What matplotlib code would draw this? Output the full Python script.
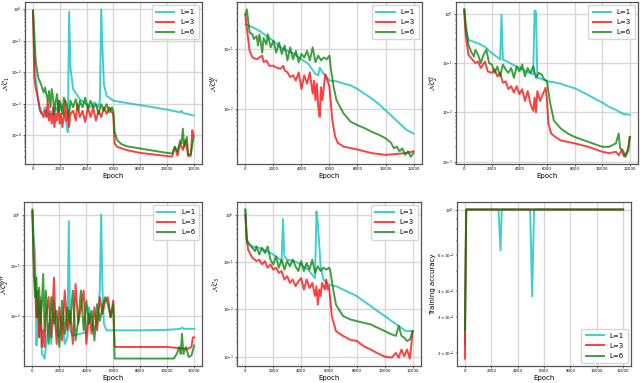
import numpy as np
import matplotlib
matplotlib.use("Agg")
import matplotlib.pyplot as plt

# Neural collapse metrics vs epoch for three depths L
labels = ["L=1", "L=3", "L=6"]
colors = ["c", "r", "g"]

# values below are log10 of the metric
# ---- NC1 ----
nc1_x1 = [0, 100, 200, 300, 400, 500, 700, 900, 1100, 1300, 1500, 1700, 1900, 2100, 2300, 2500, 2600, 2700, 2800,
          3000, 3500, 4000, 4300, 4600, 4900, 5000, 5100, 5200, 5300, 5500, 6000, 7000, 8000, 9000, 10000, 11000,
          11100, 11200, 12000]
nc1_y1 = [-0.06, -1.34, -2.18, -2.54, -2.91, -3.23, -3.33, -3.12, -3.43, -3.23, -3.38, -3.12, -3.28, -3.02, -3.33,
          -3.64, -3.91, -0.08, -1.86, -2.54, -2.86, -3.02, -3.12, -2.96, -3.12, -2.91, 0.0, -1.34, -2.39, -2.75,
          -2.91, -2.98, -3.05, -3.12, -3.19, -3.28, -3.23, -3.3, -3.38]
nc1_x3 = [0, 100, 200, 400, 500, 600, 800, 900, 1000, 1100, 1200, 1300, 1400, 1500, 1600, 1700, 1800, 1900, 2000,
          2100, 2200, 2300, 2400, 2500, 2600, 2700, 2800, 3000, 3200, 3300, 3500, 3700, 3900, 4100, 4300, 4500,
          4700, 4900, 5100, 5300, 5500, 5700, 5900, 6000, 6100, 6300, 7000, 8000, 9000, 10000, 10400, 10600,
          10800, 11000, 11200, 11400, 11600, 11800, 11900, 12000]
nc1_y3 = [-0.06, -2.18, -2.49, -2.91, -3.12, -3.28, -3.43, -3.23, -3.43, -2.91, -3.54, -3.33, -3.64, -3.12, -3.75,
          -3.33, -3.54, -2.91, -3.64, -3.33, -3.75, -3.43, -2.91, -3.54, -3.23, -3.75, -3.33, -3.23, -3.54, -3.02,
          -3.43, -3.23, -3.59, -3.12, -3.43, -3.12, -3.54, -3.23, -3.43, -3.12, -3.33, -3.12, -3.28, -3.33, -4.27,
          -4.38, -4.48, -4.57, -4.62, -4.67, -4.69, -4.38, -4.66, -4.27, -4.48, -4.17, -4.67, -4.66, -3.85, -4.01]
nc1_x6 = [0, 100, 200, 400, 600, 800, 900, 1000, 1100, 1200, 1300, 1400, 1500, 1600, 1700, 1800, 1900, 2000, 2200,
          2300, 2500, 2700, 2800, 3000, 3200, 3400, 3500, 3700, 3900, 4100, 4300, 4500, 4700, 4900, 5100, 5300,
          5500, 5700, 5900, 6000, 6100, 6300, 6600, 7000, 8000, 9000, 10000, 10400, 10600, 10800, 11000, 11100,
          11200, 11300, 11500, 11600, 11800, 12000]
nc1_y6 = [-0.03, -0.82, -1.65, -2.18, -2.39, -2.65, -2.49, -2.7, -2.91, -2.6, -3.12, -2.54, -2.81, -3.33, -2.91,
          -2.7, -3.23, -2.91, -3.33, -2.81, -3.02, -3.38, -2.91, -3.12, -2.86, -3.23, -2.91, -3.12, -2.81, -3.17,
          -2.91, -3.12, -3.02, -3.33, -3.02, -3.23, -3.02, -3.28, -3.12, -3.23, -3.91, -4.17, -4.29, -4.36, -4.43,
          -4.5, -4.57, -4.59, -4.38, -4.53, -4.17, -4.27, -3.8, -4.38, -4.06, -4.64, -4.59, -4.06]

# ---- NC2^W ----
nc2w_x1 = [0, 500, 1000, 1500, 2000, 2500, 3000, 3500, 4000, 4500, 5000, 5200, 5300, 5500, 6000, 6500, 7000, 7500,
           8000, 8500, 9000, 9500, 10000, 10500, 11000, 11500, 12000]
nc2w_y1 = [-0.58, -0.63, -0.69, -0.78, -0.86, -0.97, -1.03, -1.08, -1.17, -1.25, -1.42, -1.44, -1.31, -1.39, -1.53,
           -1.54, -1.58, -1.61, -1.67, -1.75, -1.83, -1.92, -2.03, -2.14, -2.25, -2.36, -2.42]
nc2w_x3 = [0, 100, 300, 500, 800, 1000, 1200, 1300, 1500, 1700, 2000, 2200, 2500, 2700, 2800, 3000, 3200, 3400,
           3600, 3800, 4000, 4200, 4400, 4600, 4800, 4900, 5000, 5100, 5200, 5300, 5400, 5500, 5700, 5900, 6000,
           6200, 6400, 6600, 7000, 8000, 9000, 10000, 11000, 11500, 12000]
nc2w_y3 = [-0.42, -0.64, -1.03, -1.14, -1.17, -1.14, -1.11, -1.22, -1.19, -1.28, -1.28, -1.31, -1.33, -1.28, -1.36,
           -1.39, -1.47, -1.44, -1.53, -1.39, -1.67, -1.44, -1.58, -1.39, -1.75, -1.53, -1.86, -1.58, -1.97, -2.14,
           -1.64, -1.86, -1.42, -1.56, -1.64, -2.19, -2.47, -2.58, -2.64, -2.69, -2.75, -2.78, -2.76, -2.75, -2.72]
nc2w_x6 = [0, 100, 300, 500, 600, 800, 900, 1000, 1100, 1200, 1300, 1500, 1600, 1800, 2000, 2200, 2400, 2600, 2800,
           3000, 3200, 3400, 3600, 3800, 4000, 4200, 4400, 4600, 4800, 5000, 5200, 5400, 5600, 5800, 6000, 6100,
           6300, 6500, 7000, 7500, 8000, 8500, 9000, 9500, 10000, 10400, 10600, 10800, 11000, 11200, 11400, 11600,
           11800, 12000]
nc2w_y6 = [-0.42, -0.33, -0.72, -0.75, -0.83, -0.78, -0.94, -0.75, -0.89, -1.06, -0.81, -0.92, -0.75, -0.97, -0.86,
           -1.06, -0.89, -1.08, -0.94, -1.19, -0.97, -1.17, -1.03, -1.22, -1.08, -1.14, -1.03, -1.19, -0.97, -1.22,
           -1.11, -1.19, -1.14, -1.17, -1.11, -1.33, -1.64, -1.86, -2.08, -2.22, -2.28, -2.33, -2.39, -2.44, -2.5,
           -2.58, -2.67, -2.64, -2.72, -2.67, -2.78, -2.72, -2.81, -2.75]

# ---- NC2^H ----
nc2h_x1 = [0, 100, 300, 1000, 1500, 2000, 2500, 2600, 2700, 2800, 3000, 3500, 4000, 4500, 5000, 5100, 5200, 5300,
           5500, 6000, 6500, 7000, 7500, 8000, 8500, 9000, 9500, 10000, 10500, 11000, 11500, 12000]
nc2h_y1 = [0.09, -0.3, -0.53, -0.6, -0.67, -0.8, -0.9, -0.93, -0.02, -0.93, -0.95, -1.03, -1.1, -1.17, -1.23, 0.07,
           0.03, -1.3, -1.31, -1.37, -1.39, -1.42, -1.47, -1.51, -1.58, -1.65, -1.73, -1.8, -1.89, -1.95, -2.03,
           -2.05]
nc2h_x3 = [0, 100, 300, 500, 800, 1000, 1200, 1500, 1700, 2000, 2200, 2400, 2600, 2800, 3000, 3200, 3400, 3600,
           3800, 4000, 4200, 4400, 4600, 4800, 5000, 5100, 5200, 5300, 5500, 5700, 5900, 6000, 6100, 6300, 6600,
           7000, 8000, 9000, 10000, 10500, 11000, 11200, 11400, 11600, 11800, 11900, 12000]
nc2h_y3 = [0.07, -0.43, -0.83, -0.9, -1.0, -0.97, -1.1, -0.97, -1.17, -1.2, -1.13, -1.27, -1.2, -1.4, -1.37, -1.53,
           -1.47, -1.6, -1.47, -1.63, -1.53, -1.77, -1.57, -1.83, -1.97, -1.7, -2.0, -1.57, -1.77, -1.63, -1.5,
           -1.77, -2.23, -2.43, -2.5, -2.57, -2.63, -2.7, -2.8, -2.83, -2.8, -2.87, -2.77, -2.9, -2.8, -2.7, -2.5]
nc2h_x6 = [0, 100, 300, 500, 700, 800, 1000, 1200, 1400, 1600, 1800, 2000, 2200, 2400, 2600, 2800, 3000, 3200,
           3400, 3600, 3800, 4000, 4200, 4400, 4600, 4800, 5000, 5200, 5400, 5600, 5800, 6000, 6200, 6500, 7000,
           7500, 8000, 9000, 10000, 10500, 11000, 11200, 11300, 11500, 11700, 11900, 12000]
nc2h_y6 = [0.09, -0.2, -0.63, -0.77, -0.87, -0.73, -0.83, -1.0, -0.83, -0.73, -1.0, -1.03, -1.2, -1.07, -1.27,
           -1.03, -1.13, -1.2, -1.1, -1.3, -1.07, -1.17, -1.03, -1.27, -1.1, -1.2, -1.07, -1.3, -1.2, -1.23, -1.33,
           -1.37, -1.77, -2.17, -2.33, -2.43, -2.5, -2.6, -2.7, -2.7, -2.63, -2.43, -2.73, -2.77, -2.9, -2.77, -2.5]

# ---- NC2^WH ----
nc2wh_x1 = [0, 100, 200, 300, 400, 500, 600, 700, 800, 900, 1000, 1200, 1400, 1600, 1800, 2000, 2200, 2400, 2600,
            2700, 2800, 3000, 3500, 4000, 4200, 4500, 4800, 5000, 5100, 5200, 5300, 5500, 6000, 8000, 10000, 11000,
            11100, 11200, 12000]
nc2wh_y1 = [0.08, -0.45, -0.78, -2.59, -1.83, -2.43, -1.63, -2.76, -2.79, -2.85, -2.62, -2.16, -2.56, -1.7, -2.29,
            -2.43, -2.03, -2.56, -2.43, -0.12, -2.29, -2.39, -2.36, -2.33, -1.83, -2.29, -2.16, -1.5, 0.01, -1.5,
            -2.16, -2.29, -2.29, -2.29, -2.28, -2.26, -2.23, -2.26, -2.26]
nc2wh_x3 = [0, 100, 200, 300, 400, 500, 600, 700, 800, 900, 1000, 1200, 1400, 1600, 1700, 1800, 2000, 2200, 2400,
            2600, 2800, 3000, 3200, 3400, 3600, 3800, 4000, 4200, 4400, 4600, 4800, 5000, 5200, 5400, 5600, 5800,
            6000, 6100, 8000, 10000, 11500, 11800, 11900, 12000]
nc2wh_y3 = [0.08, -0.84, -1.37, -2.03, -1.5, -2.43, -1.7, -2.62, -2.29, -2.62, -2.03, -1.63, -2.43, -1.24, -2.16,
            -2.56, -1.83, -2.49, -1.5, -2.29, -1.9, -2.56, -1.37, -2.16, -1.83, -1.5, -2.56, -1.96, -2.36, -1.83,
            -2.29, -1.63, -1.96, -1.7, -1.63, -2.03, -1.7, -2.62, -2.62, -2.62, -2.66, -2.62, -2.43, -2.43]
nc2wh_x6 = [0, 100, 200, 300, 400, 500, 600, 700, 800, 900, 1000, 1200, 1400, 1600, 1800, 2000, 2200, 2400, 2600,
            2800, 3000, 3200, 3400, 3600, 3800, 4000, 4200, 4400, 4600, 4800, 5000, 5200, 5400, 5600, 5800, 6000,
            6100, 8000, 10500, 10700, 10900, 11000, 11100, 11200, 11400, 11600, 11800, 12000]
nc2wh_y6 = [0.11, -1.17, -1.63, -1.24, -2.03, -1.44, -2.16, -1.77, -1.17, -2.29, -1.5, -2.56, -1.63, -2.16, -1.9,
            -2.62, -1.7, -2.36, -1.83, -2.16, -1.5, -2.49, -2.1, -1.5, -2.29, -1.7, -2.16, -1.9, -2.49, -1.77, -2.1,
            -1.83, -1.63, -1.77, -2.03, -1.77, -2.85, -2.85, -2.85, -2.76, -2.62, -2.76, -2.36, -2.76, -2.62, -2.82,
            -2.79, -2.59]

# ---- NC3 ----
nc3_x1 = [0, 100, 300, 500, 1000, 1500, 2000, 2500, 2600, 2700, 2800, 3000, 3500, 4000, 4500, 5000, 5100, 5200,
          5400, 5600, 6000, 6500, 7000, 7500, 8000, 8500, 9000, 9500, 10000, 10500, 11000, 11500, 12000]
nc3_y1 = [0.11, -0.6, -0.63, -0.67, -0.7, -0.77, -0.84, -0.95, -0.98, -0.09, -0.88, -0.95, -0.98, -1.05, -1.16,
          -1.34, 0.07, -0.18, -1.09, -1.37, -1.48, -1.51, -1.58, -1.65, -1.72, -1.83, -1.93, -2.04, -2.14, -2.25,
          -2.35, -2.46, -2.46]
nc3_x3 = [0, 100, 200, 500, 800, 1000, 1200, 1400, 1600, 1800, 2000, 2200, 2400, 2600, 2800, 3000, 3200, 3400,
          3600, 3800, 4000, 4200, 4400, 4600, 4800, 5000, 5100, 5200, 5300, 5400, 5500, 5700, 5800, 5900, 6000,
          6200, 6500, 7000, 7500, 8000, 8500, 9000, 9500, 10000, 10500, 10800, 11000, 11200, 11400, 11600, 11800,
          11900, 12000]
nc3_y3 = [0.0, -0.49, -0.74, -0.91, -0.98, -0.95, -1.05, -0.98, -1.12, -1.05, -1.16, -1.12, -1.23, -1.19, -1.37,
          -1.3, -1.44, -1.37, -1.51, -1.41, -1.34, -1.58, -1.37, -1.55, -1.44, -1.72, -1.51, -1.9, -1.58, -1.72,
          -1.44, -1.58, -1.37, -1.58, -1.51, -2.14, -2.46, -2.56, -2.64, -2.67, -2.78, -2.85, -2.93, -3.0, -3.02,
          -2.92, -3.02, -2.85, -2.99, -2.85, -3.04, -2.78, -2.46]
nc3_x6 = [0, 100, 300, 500, 700, 800, 1000, 1200, 1400, 1600, 1800, 2000, 2200, 2400, 2600, 2800, 3000, 3200,
          3400, 3600, 3800, 4000, 4200, 4400, 4600, 4800, 5000, 5200, 5400, 5600, 5800, 6000, 6100, 6300, 6500,
          7000, 7500, 8000, 9000, 10000, 10500, 10800, 11000, 11200, 11400, 11600, 11800, 12000]
nc3_y6 = [0.11, -0.53, -0.63, -0.7, -0.77, -0.67, -0.84, -0.7, -0.81, -0.67, -0.95, -1.05, -0.88, -1.12, -0.95,
          -1.16, -0.98, -1.09, -0.95, -1.09, -1.19, -0.98, -1.19, -1.02, -1.16, -0.95, -1.23, -1.09, -1.19, -1.12,
          -1.16, -1.12, -1.19, -1.58, -1.9, -2.14, -2.21, -2.25, -2.32, -2.46, -2.53, -2.56, -2.35, -2.56, -2.6,
          -2.67, -2.64, -2.46]

# ---- training accuracy (plain values) ----
acc_x1 = [0, 100, 2550, 2700, 2800, 4950, 5100, 5250, 12000]
acc_y1 = [0.22, 1.0, 1.0, 0.63, 1.0, 1.0, 0.377, 1.0, 1.0]
acc_x3 = [0, 100, 12000]
acc_y3 = [0.187, 1.0, 1.0]
acc_x6 = [0, 100, 12000]
acc_y6 = [0.257, 1.0, 1.0]


def draw_panel(ax, xs, ys, ylabel, loc="upper right", label_x=None):
    for x, y, c, lab in zip(xs, ys, colors, labels):
        ax.plot(x, y, color=c, alpha=0.75, lw=1.4, label=lab)
    ax.set_yscale("log")
    ax.set_xticks([0, 2000, 4000, 6000, 8000, 10000, 12000])
    ax.grid(True, color="#d8d8d8", lw=1.0)
    ax.set_axisbelow(True)
    ax.tick_params(which="both", labelsize=2.8, pad=1.0)
    ax.tick_params(which="major", length=1.5, width=0.4)
    ax.tick_params(which="minor", length=0.8, width=0.3)
    for s in ax.spines.values():
        s.set_color("#555555")
        s.set_linewidth(0.9)
    ax.set_xlabel("Epoch", fontsize=5, labelpad=1)
    ax.set_ylabel(ylabel, fontsize=5, labelpad=0.5)
    if label_x is not None:
        ax.yaxis.set_label_coords(label_x, 0.5)
    ax.legend(loc=loc, fontsize=5, handlelength=2.6, borderpad=0.6, labelspacing=0.6,
              handletextpad=0.9, borderaxespad=0.4)


def lin(v):
    return [10.0 ** a for a in v]


fig = plt.figure(figsize=(6.4, 3.83), dpi=100)
ax1 = fig.add_axes([0.039, 0.5718, 0.276, 0.423])
ax2 = fig.add_axes([0.3703, 0.5718, 0.289, 0.423])
ax3 = fig.add_axes([0.7125, 0.5718, 0.2844, 0.423])
ax4 = fig.add_axes([0.038, 0.0444, 0.278, 0.428])
ax5 = fig.add_axes([0.3703, 0.0444, 0.2875, 0.428])
ax6 = fig.add_axes([0.714, 0.0444, 0.272, 0.428])

draw_panel(ax1, [nc1_x1, nc1_x3, nc1_x6], [lin(nc1_y1), lin(nc1_y3), lin(nc1_y6)], r"$\mathcal{NC}_1$",
           label_x=-0.072)
draw_panel(ax2, [nc2w_x1, nc2w_x3, nc2w_x6], [lin(nc2w_y1), lin(nc2w_y3), lin(nc2w_y6)],
           r"$\mathcal{NC}_2^{W}$")
draw_panel(ax3, [nc2h_x1, nc2h_x3, nc2h_x6], [lin(nc2h_y1), lin(nc2h_y3), lin(nc2h_y6)],
           r"$\mathcal{NC}_2^{H}$")
draw_panel(ax4, [nc2wh_x1, nc2wh_x3, nc2wh_x6], [lin(nc2wh_y1), lin(nc2wh_y3), lin(nc2wh_y6)],
           r"$\mathcal{NC}_2^{WH}$", label_x=-0.07)
draw_panel(ax5, [nc3_x1, nc3_x3, nc3_x6], [lin(nc3_y1), lin(nc3_y3), lin(nc3_y6)], r"$\mathcal{NC}_3$")
draw_panel(ax6, [acc_x1, acc_x3, acc_x6], [acc_y1, acc_y3, acc_y6], "Training accuracy", loc="lower right")

fig.savefig("out.png", dpi=100)
